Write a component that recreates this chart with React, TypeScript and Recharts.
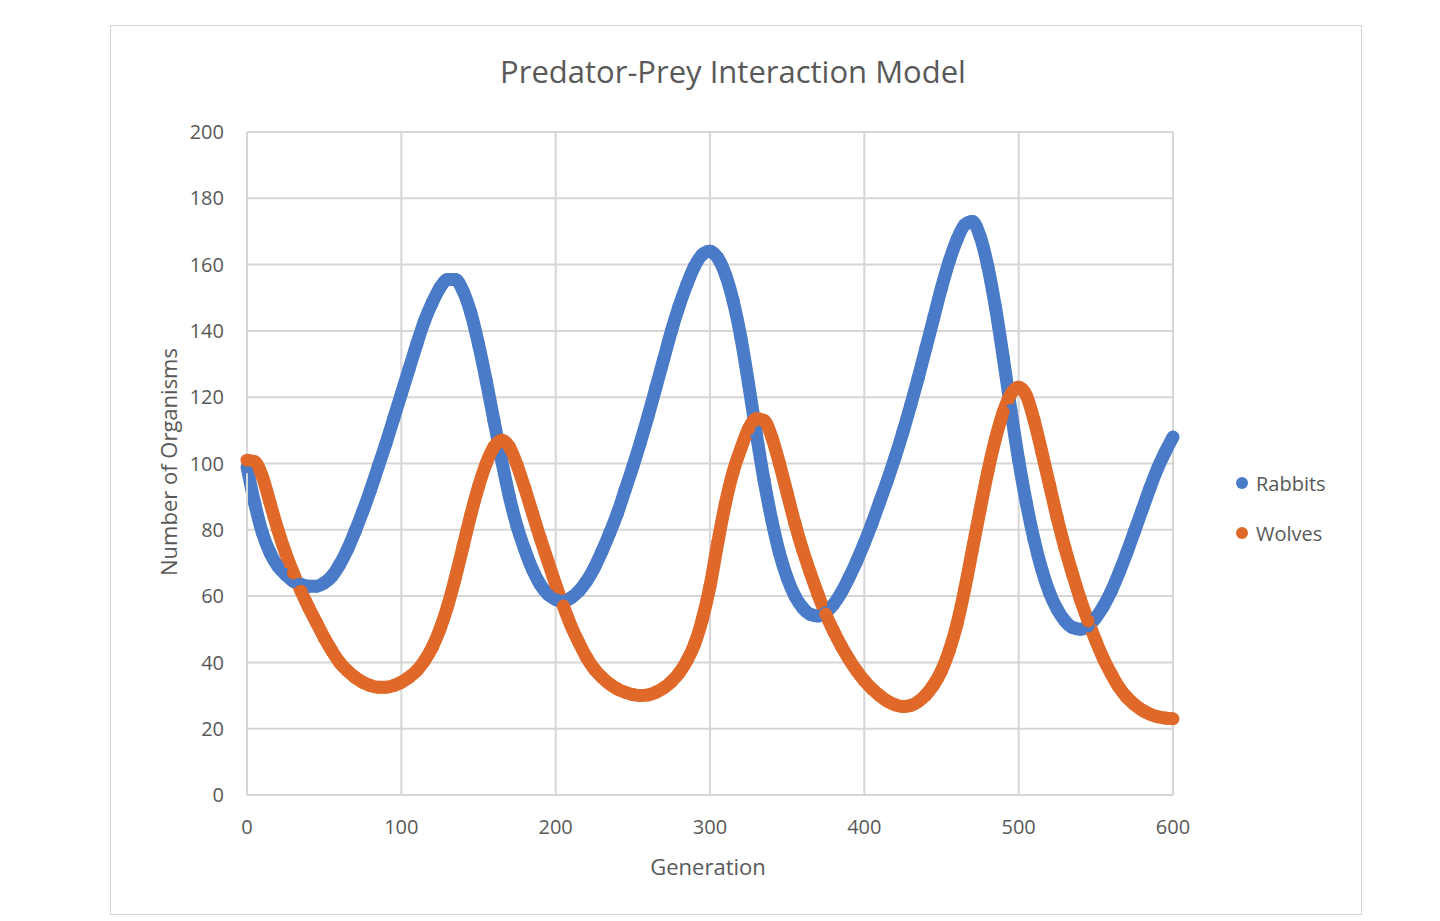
import { LineChart, Line, XAxis, YAxis, CartesianGrid, Legend } from "recharts";

// generation number for each sample
const GENERATIONS = [
  0, 5, 10, 15, 20, 25, 30, 35, 40, 45,
  50, 55, 60, 65, 70, 75, 80, 85, 90, 95,
  100, 105, 110, 115, 120, 125, 130, 135, 140, 145,
  150, 155, 160, 165, 170, 175, 180, 185, 190, 195,
  200, 205, 210, 215, 220, 225, 230, 235, 240, 245,
  250, 255, 260, 265, 270, 275, 280, 285, 290, 295,
  300, 305, 310, 315, 320, 325, 330, 335, 340, 345,
  350, 355, 360, 365, 370, 375, 380, 385, 390, 395,
  400, 405, 410, 415, 420, 425, 430, 435, 440, 445,
  450, 455, 460, 465, 470, 475, 480, 485, 490, 495,
  500, 505, 510, 515, 520, 525, 530, 535, 540, 545,
  550, 555, 560, 565, 570, 575, 580, 585, 590, 595,
  600,
];

const RABBITS = [
  99, 88, 79, 73, 69, 66.5, 64.5, 63.5, 63, 63,
  64, 66, 69.5, 74, 79.5, 85.5, 92, 99, 106, 113.5,
  121, 128.5, 136, 143, 148.5, 153, 155.5, 155.5, 152, 145.5,
  136, 125, 113, 101, 90, 81, 74, 68, 63.5, 60.5,
  59, 58.5, 59.5, 61.5, 64.5, 68.5, 73.5, 79, 85, 92,
  99, 106.5, 114.5, 123, 131.5, 140, 147.5, 154, 159.5, 163,
  164, 162, 157, 149, 138, 124, 109, 95, 83, 73,
  65.5, 60, 56.5, 54.5, 54, 55, 57.5, 61, 65.5, 70.5,
  76, 82, 88.5, 95, 102, 109.5, 117.5, 126, 135, 144,
  153, 161, 167.5, 172, 173, 168.5, 159.5, 147, 132, 116,
  101, 88, 77, 68, 61, 56, 52.5, 50.5, 50, 51,
  53.5, 57, 61.5, 67, 73, 79.5, 86, 92.5, 98.5, 103.5,
  108,
];

const WOLVES = [
  101, 100.5, 96, 88, 80, 73, 67, 61.5, 56.5, 52,
  47.5, 43.5, 40, 37.5, 35.5, 34, 33, 32.5, 32.5, 33,
  34, 35.5, 37.5, 40.5, 44.5, 50, 57, 65.5, 75, 84.5,
  93, 100, 105, 107, 105, 99.5, 92.5, 85, 77.5, 70.5,
  63.5, 57, 51, 46, 41.5, 38, 35.5, 33.5, 32, 31,
  30.3, 30, 30.2, 31, 32.3, 34.2, 36.8, 40.5, 45.5, 53,
  63, 76, 88, 97.5, 104.5, 110.5, 113.5, 113, 108, 100,
  91, 82, 74, 67, 60.5, 54.5, 49.5, 45, 41, 37.5,
  34.5, 32, 30, 28.3, 27.2, 26.7, 27, 28.2, 30.3, 33.3,
  37.5, 43.5, 51.5, 62, 74, 86, 97.5, 107.5, 115.5, 121,
  123, 120.5, 113, 103.5, 93.5, 83.5, 74.5, 66.5, 59, 52.5,
  46.5, 41, 36.5, 32.5, 29.5, 27.3, 25.6, 24.4, 23.6, 23.2,
  23,
];

const X_TICKS = [0, 100, 200, 300, 400, 500, 600];
const Y_TICKS = [0, 20, 40, 60, 80, 100, 120, 140, 160, 180, 200];

const SERIES = [
  { key: "rabbits", name: "Rabbits", color: "#4a7bc8" },
  { key: "wolves", name: "Wolves", color: "#e0692a" },
];

const rows = GENERATIONS.map((gen, i) => ({ gen, rabbits: RABBITS[i], wolves: WOLVES[i] }));

const FONT = "'Open Sans', sans-serif";
const TEXT = "#595959";
const GRID = "#d6d6d6";

function SeriesKey({ payload }: any) {
  return (
    <div style={{ fontFamily: FONT, fontSize: 20, color: TEXT }}>
      {(payload || []).map((p: any) => (
        <div key={p.value} style={{ display: "flex", alignItems: "center", height: 50 }}>
          <span style={{ width: 12, height: 12, borderRadius: 6, background: p.color, marginRight: 8 }} />
          {p.value}
        </div>
      ))}
    </div>
  );
}

export default function App() {
  return (
    <div
      style={{
        position: "relative", marginLeft: 102, marginTop: 17,
        width: 1250, height: 888, border: "1px solid #d4d4d4", background: "#fff",
      }}
    >
      <div
        style={{
          position: "absolute", left: 0, top: 24, width: 1244, textAlign: "center",
          fontFamily: FONT, fontSize: 31, color: TEXT,
        }}
      >
        Predator-Prey Interaction Model
      </div>
      <div
        style={{
          position: "absolute", left: 57, top: 436, width: 0, height: 0,
          display: "flex", alignItems: "center", justifyContent: "center",
        }}
      >
        <div style={{ transform: "rotate(-90deg)", whiteSpace: "nowrap", fontFamily: FONT, fontSize: 22, color: TEXT }}>
          Number of Organisms
        </div>
      </div>
      <div
        style={{
          position: "absolute", left: 597, top: 840, width: 0, height: 0,
          display: "flex", alignItems: "center", justifyContent: "center",
        }}
      >
        <div style={{ whiteSpace: "nowrap", fontFamily: FONT, fontSize: 22, color: TEXT }}>Generation</div>
      </div>
      <LineChart
        width={1250}
        height={888}
        data={rows}
        margin={{ top: 106, right: 188, left: 0, bottom: 0 }}
        style={{ position: "absolute", left: 0, top: 0 }}
      >
        <CartesianGrid stroke={GRID} strokeWidth={2} />
        <XAxis
          dataKey="gen" type="number" domain={[0, 600]} ticks={X_TICKS}
          height={119} tickLine={false} tickSize={0} tickMargin={25}
          axisLine={{ stroke: GRID, strokeWidth: 2 }}
          tick={{ fill: TEXT, fontSize: 20, fontFamily: FONT }}
        />
        <YAxis
          type="number" domain={[0, 200]} ticks={Y_TICKS}
          width={136} tickLine={false} tickSize={0} tickMargin={23}
          axisLine={{ stroke: GRID, strokeWidth: 2 }}
          tick={{ fill: TEXT, fontSize: 20, fontFamily: FONT }}
        />
        <Legend
          layout="horizontal" align="center" verticalAlign="middle"
          wrapperStyle={{ left: 1125, top: 432, width: 130 }}
          content={SeriesKey}
        />
        {SERIES.map((s) => (
          <Line
            key={s.key}
            dataKey={s.key}
            name={s.name}
            type="monotone"
            stroke={s.color}
            strokeWidth={13}
            dot={{ r: 6.5, strokeWidth: 0, fill: s.color }}
            activeDot={false}
            legendType="circle"
            isAnimationActive={false}
          />
        ))}
      </LineChart>
    </div>
  );
}
